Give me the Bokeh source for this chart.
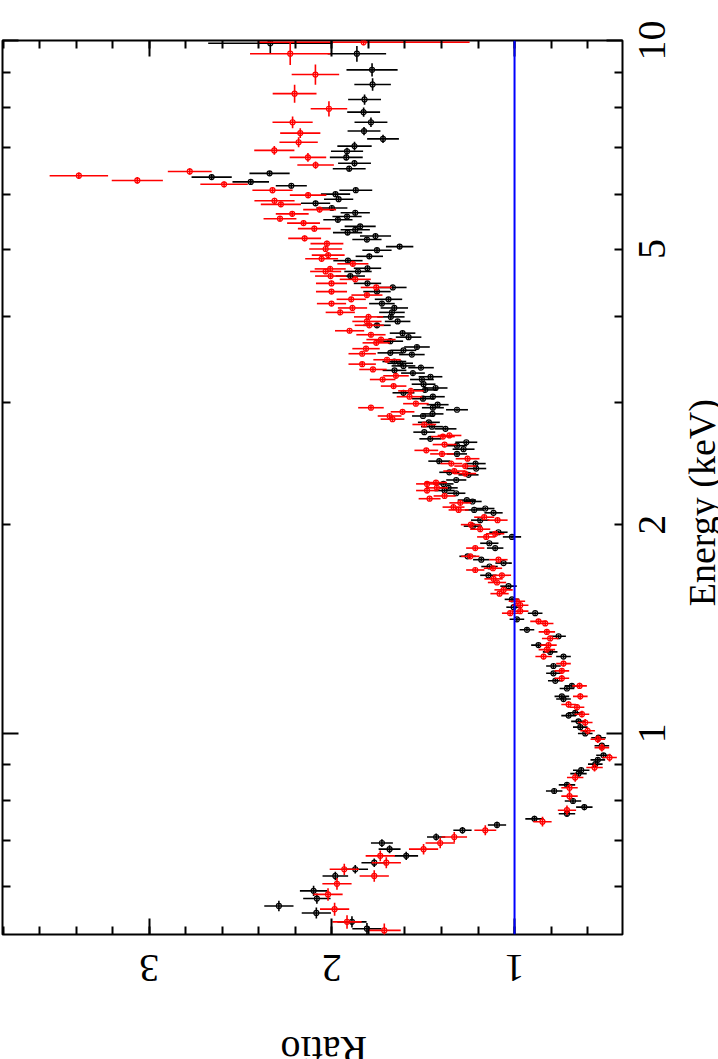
import math
from bokeh.plotting import figure
from bokeh.layouts import row, column
from bokeh.models import Range1d, LinearAxis, LogAxis, FixedTicker, Span, ColumnDataSource
from bokeh.core.properties import value
from bokeh.embed import file_html
from bokeh.resources import INLINE

# ---------------- data ----------------
black_energy = [
    9.91, 9.57, 9.07, 8.64, 8.22, 7.88, 7.62, 7.40, 7.21, 7.04,
    6.92, 6.78, 6.65, 6.53, 6.43, 6.35, 6.25, 6.17, 6.08, 6.00,
    5.90, 5.82, 5.73, 5.64, 5.57, 5.51, 5.39, 5.33, 5.28, 5.22,
    5.16, 5.04, 4.98, 4.88, 4.81, 4.69, 4.64, 4.57, 4.46, 4.40,
    4.34, 4.23, 4.17, 4.11, 4.05, 3.99, 3.93, 3.88, 3.78, 3.73,
    3.68, 3.61, 3.57, 3.54, 3.52, 3.44, 3.42, 3.39, 3.37, 3.34,
    3.31, 3.27, 3.24, 3.19, 3.15, 3.13, 3.10, 3.06, 3.04, 2.98,
    2.95, 2.93, 2.89, 2.87, 2.81, 2.77, 2.75, 2.72, 2.66, 2.63,
    2.60, 2.57, 2.53, 2.47, 2.45, 2.41, 2.38, 2.36, 2.32, 2.29,
    2.26, 2.24, 2.22, 2.17, 2.16, 2.10, 2.11, 2.08, 2.03, 1.99,
    1.95, 1.92, 1.88, 1.85, 1.80, 1.78, 1.76, 1.74, 1.69, 1.63,
    1.56, 1.52, 1.49, 1.46, 1.41, 1.38, 1.34, 1.31, 1.29, 1.25,
    1.22, 1.19, 1.17, 1.16, 1.13, 1.12, 1.07, 1.06, 1.04, 1.02,
    0.999, 0.985, 0.959, 0.929, 0.915, 0.902, 0.884, 0.874, 0.842, 0.825,
    0.798, 0.782, 0.765, 0.752, 0.737, 0.724, 0.708, 0.694, 0.680, 0.665,
    0.650, 0.636, 0.622, 0.592, 0.577, 0.563, 0.550, 0.534, 0.522,
]
black_ratio = [
    2.337, 1.863, 1.78, 1.777, 1.821, 1.826, 1.786, 1.824, 1.72, 1.876,
    1.917, 1.921, 1.876, 1.905, 2.341, 2.658, 2.444, 2.222, 1.869, 1.98,
    1.963, 2.089, 2.0, 1.872, 1.917, 1.967, 1.845, 1.872, 1.914, 1.761,
    1.808, 1.629, 1.753, 1.795, 1.912, 1.805, 1.857, 1.899, 1.805, 1.666,
    1.753, 1.69, 1.726, 1.658, 1.671, 1.677, 1.64, 1.753, 1.613, 1.58,
    1.68, 1.534, 1.608, 1.68, 1.562, 1.658, 1.626, 1.608, 1.512, 1.657,
    1.556, 1.46, 1.507, 1.498, 1.432, 1.489, 1.608, 1.447, 1.501, 1.421,
    1.447, 1.315, 1.449, 1.501, 1.469, 1.452, 1.378, 1.494, 1.461, 1.264,
    1.315, 1.279, 1.315, 1.412, 1.213, 1.21, 1.357, 1.252, 1.319, 1.389,
    1.361, 1.383, 1.319, 1.261, 1.23, 1.221, 1.16, 1.115, 1.188, 1.228,
    1.088, 1.014, 1.138, 1.106, 1.257, 1.182, 1.06, 1.137, 1.143, 1.033,
    1.014, 1.005, 0.887, 0.987, 0.932, 0.759, 0.869, 0.805, 0.732, 0.787,
    0.787, 0.777, 0.686, 0.713, 0.741, 0.732, 0.668, 0.704, 0.65, 0.64,
    0.613, 0.54, 0.522, 0.513, 0.544, 0.558, 0.635, 0.65, 0.713, 0.783,
    0.68, 0.618, 0.713, 0.891, 1.096, 1.285, 1.429, 1.726, 1.684, 1.593,
    1.768, 1.872, 1.981, 2.10, 2.082, 2.29, 2.085, 1.89, 1.808,
]
black_ratio_err = [
    0.34, 0.16, 0.14, 0.10, 0.09, 0.09, 0.09, 0.09, 0.087, 0.094,
    0.088, 0.09, 0.09, 0.09, 0.11, 0.11, 0.10, 0.085, 0.09, 0.08,
    0.08, 0.08, 0.085, 0.08, 0.08, 0.08, 0.085, 0.08, 0.08, 0.085,
    0.08, 0.075, 0.08, 0.075, 0.08, 0.075, 0.075, 0.08, 0.075, 0.075,
    0.075, 0.075, 0.07, 0.075, 0.07, 0.075, 0.07, 0.075, 0.07, 0.07,
    0.07, 0.07, 0.07, 0.07, 0.07, 0.065, 0.07, 0.065, 0.07, 0.065,
    0.065, 0.065, 0.065, 0.065, 0.065, 0.065, 0.06, 0.065, 0.06, 0.06,
    0.06, 0.06, 0.06, 0.06, 0.06, 0.06, 0.06, 0.06, 0.06, 0.06,
    0.055, 0.06, 0.055, 0.06, 0.055, 0.055, 0.055, 0.055, 0.055, 0.055,
    0.05, 0.055, 0.05, 0.05, 0.05, 0.05, 0.05, 0.05, 0.05, 0.05,
    0.05, 0.05, 0.05, 0.045, 0.045, 0.045, 0.045, 0.045, 0.045, 0.045,
    0.04, 0.04, 0.04, 0.04, 0.04, 0.04, 0.04, 0.04, 0.04, 0.04,
    0.04, 0.04, 0.04, 0.04, 0.04, 0.04, 0.04, 0.04, 0.04, 0.04,
    0.04, 0.04, 0.04, 0.04, 0.04, 0.04, 0.045, 0.045, 0.045, 0.045,
    0.045, 0.045, 0.045, 0.05, 0.05, 0.05, 0.05, 0.06, 0.06, 0.065,
    0.07, 0.07, 0.07, 0.075, 0.075, 0.08, 0.08, 0.08, 0.08,
]
black_energy_err = [
    0.35, 0.25, 0.2, 0.18, 0.14, 0.12, 0.12, 0.1, 0.1, 0.1,
    0.08, 0.07, 0.07, 0.06, 0.05, 0.05, 0.05, 0.05, 0.05, 0.05,
    0.05, 0.05, 0.05, 0.05, 0.04, 0.04, 0.04, 0.04, 0.04, 0.04,
    0.04, 0.04, 0.04, 0.04, 0.04, 0.04, 0.03, 0.03, 0.03, 0.03,
    0.03, 0.03, 0.03, 0.03, 0.03, 0.03, 0.03, 0.03, 0.03, 0.025,
    0.025, 0.025, 0.02, 0.02, 0.02, 0.02, 0.02, 0.02, 0.02, 0.02,
    0.02, 0.02, 0.02, 0.02, 0.02, 0.02, 0.02, 0.02, 0.02, 0.02,
    0.02, 0.015, 0.015, 0.015, 0.015, 0.015, 0.015, 0.015, 0.015, 0.015,
    0.015, 0.015, 0.015, 0.015, 0.015, 0.012, 0.012, 0.012, 0.012, 0.012,
    0.012, 0.012, 0.012, 0.012, 0.012, 0.012, 0.01, 0.01, 0.01, 0.01,
    0.01, 0.01, 0.01, 0.01, 0.01, 0.01, 0.008, 0.008, 0.008, 0.008,
    0.008, 0.008, 0.008, 0.008, 0.008, 0.008, 0.008, 0.008, 0.008, 0.008,
    0.007, 0.007, 0.007, 0.007, 0.007, 0.007, 0.007, 0.007, 0.007, 0.007,
    0.007, 0.007, 0.007, 0.007, 0.007, 0.007, 0.007, 0.007, 0.008, 0.008,
    0.008, 0.008, 0.008, 0.008, 0.008, 0.008, 0.008, 0.009, 0.009, 0.009,
    0.009, 0.009, 0.009, 0.01, 0.01, 0.01, 0.01, 0.01, 0.01,
]

red_energy = [
    9.94, 9.57, 8.93, 8.38, 7.97, 7.62, 7.35, 7.13, 6.94, 6.78,
    6.61, 6.47, 6.38, 6.28, 6.20, 6.08, 5.98, 5.87, 5.80, 5.70,
    5.62, 5.53, 5.45, 5.35, 5.18, 5.09, 5.00, 4.90, 4.84, 4.76,
    4.68, 4.64, 4.57, 4.52, 4.46, 4.40, 4.34, 4.29, 4.23, 4.17,
    4.11, 4.05, 3.99, 3.93, 3.88, 3.81, 3.76, 3.70, 3.66, 3.59,
    3.53, 3.46, 3.41, 3.35, 3.28, 3.24, 3.17, 3.12, 3.06, 2.99,
    2.95, 2.91, 2.87, 2.84, 2.79, 2.69, 2.68, 2.61, 2.56, 2.53,
    2.49, 2.45, 2.43, 2.37, 2.39, 2.30, 2.29, 2.26, 2.24, 2.20,
    2.18, 2.15, 2.12, 2.10, 2.05, 2.03, 2.00, 1.97, 1.94, 1.92,
    1.85, 1.80, 1.78, 1.73, 1.72, 1.69, 1.67, 1.65, 1.61, 1.59,
    1.55, 1.53, 1.50, 1.49, 1.45, 1.44, 1.40, 1.37, 1.34, 1.32,
    1.29, 1.26, 1.23, 1.20, 1.17, 1.13, 1.10, 1.09, 1.065, 1.036,
    1.008, 0.980, 0.953, 0.922, 0.892, 0.863, 0.834, 0.811, 0.774, 0.745,
    0.724, 0.708, 0.694, 0.680, 0.665, 0.650, 0.636, 0.622, 0.606, 0.585,
    0.557, 0.534, 0.519,
]
red_ratio = [
    1.826, 2.228, 2.09, 2.204, 2.016, 2.215, 2.173, 2.182, 2.315, 2.131,
    2.089, 2.778, 3.385, 3.065, 2.59, 2.325, 2.13, 2.314, 2.279, 2.067,
    2.217, 2.284, 2.155, 2.096, 2.149, 2.027, 2.034, 2.02, 2.056, 1.885,
    2.009, 2.034, 2.007, 1.872, 2.002, 1.757, 2.002, 1.808, 1.894, 2.002,
    1.887, 1.954, 1.799, 1.808, 1.795, 1.903, 1.786, 1.731, 1.757, 1.813,
    1.834, 1.698, 1.834, 1.775, 1.649, 1.722, 1.662, 1.567, 1.575, 1.54,
    1.786, 1.613, 1.684, 1.668, 1.494, 1.356, 1.392, 1.383, 1.483, 1.397,
    1.257, 1.346, 1.27, 1.27, 1.33, 1.43, 1.479, 1.425, 1.479, 1.383,
    1.465, 1.297, 1.334, 1.306, 1.166, 1.093, 1.239, 1.188, 1.106, 1.155,
    1.215, 1.242, 1.088, 1.118, 1.215, 1.069, 1.115, 1.096, 1.06, 1.082,
    0.987, 0.969, 0.969, 1.024, 0.869, 0.832, 0.823, 0.805, 0.814, 0.823,
    0.841, 0.732, 0.741, 0.741, 0.644, 0.64, 0.704, 0.658, 0.631, 0.613,
    0.60, 0.544, 0.522, 0.48, 0.562, 0.668, 0.699, 0.699, 0.713, 0.847,
    1.16, 1.33, 1.407, 1.498, 1.735, 1.702, 1.932, 1.768, 1.972, 2.021,
    1.985, 1.917, 1.713,
]
red_ratio_err = [
    0.58, 0.22, 0.13, 0.12, 0.10, 0.11, 0.11, 0.105, 0.11, 0.10,
    0.10, 0.12, 0.16, 0.14, 0.13, 0.11, 0.10, 0.11, 0.11, 0.09,
    0.09, 0.09, 0.09, 0.09, 0.09, 0.09, 0.09, 0.09, 0.09, 0.085,
    0.085, 0.085, 0.085, 0.085, 0.085, 0.085, 0.085, 0.085, 0.08, 0.08,
    0.08, 0.08, 0.08, 0.08, 0.08, 0.08, 0.08, 0.08, 0.075, 0.075,
    0.075, 0.075, 0.075, 0.075, 0.07, 0.07, 0.07, 0.07, 0.07, 0.07,
    0.07, 0.065, 0.065, 0.065, 0.065, 0.065, 0.065, 0.065, 0.065, 0.065,
    0.065, 0.06, 0.06, 0.06, 0.06, 0.06, 0.06, 0.06, 0.06, 0.06,
    0.06, 0.06, 0.06, 0.055, 0.055, 0.055, 0.055, 0.055, 0.05, 0.05,
    0.05, 0.05, 0.05, 0.05, 0.05, 0.05, 0.05, 0.05, 0.05, 0.05,
    0.045, 0.045, 0.045, 0.045, 0.045, 0.045, 0.045, 0.045, 0.045, 0.045,
    0.045, 0.04, 0.04, 0.04, 0.04, 0.04, 0.04, 0.04, 0.04, 0.04,
    0.04, 0.04, 0.04, 0.04, 0.045, 0.045, 0.045, 0.045, 0.05, 0.05,
    0.06, 0.07, 0.08, 0.08, 0.08, 0.08, 0.08, 0.08, 0.08, 0.08,
    0.08, 0.08, 0.09,
]
red_energy_err = [
    0.1, 0.35, 0.3, 0.25, 0.2, 0.15, 0.12, 0.12, 0.1, 0.1,
    0.08, 0.07, 0.07, 0.07, 0.06, 0.06, 0.06, 0.06, 0.05, 0.05,
    0.05, 0.05, 0.05, 0.05, 0.05, 0.05, 0.04, 0.04, 0.04, 0.04,
    0.04, 0.04, 0.04, 0.04, 0.04, 0.04, 0.035, 0.035, 0.035, 0.035,
    0.035, 0.035, 0.03, 0.03, 0.03, 0.03, 0.03, 0.03, 0.03, 0.03,
    0.025, 0.025, 0.025, 0.025, 0.025, 0.025, 0.025, 0.025, 0.02, 0.02,
    0.02, 0.02, 0.02, 0.02, 0.02, 0.02, 0.02, 0.02, 0.02, 0.02,
    0.02, 0.018, 0.018, 0.018, 0.018, 0.018, 0.018, 0.018, 0.018, 0.015,
    0.015, 0.015, 0.015, 0.015, 0.015, 0.015, 0.015, 0.015, 0.015, 0.015,
    0.012, 0.012, 0.012, 0.012, 0.012, 0.012, 0.012, 0.012, 0.012, 0.012,
    0.012, 0.012, 0.012, 0.012, 0.012, 0.012, 0.012, 0.012, 0.012, 0.012,
    0.012, 0.012, 0.012, 0.012, 0.012, 0.012, 0.012, 0.012, 0.012, 0.012,
    0.012, 0.012, 0.012, 0.012, 0.012, 0.012, 0.012, 0.012, 0.012, 0.012,
    0.012, 0.012, 0.012, 0.012, 0.012, 0.012, 0.012, 0.012, 0.012, 0.012,
    0.012, 0.012, 0.012,
]

# axis ticks and labels
ratio_major = [1, 2, 3]
ratio_minor = [0.4, 0.6, 0.8, 1.0, 1.2, 1.4, 1.6, 1.8, 2.0, 2.2, 2.4, 2.6,
               2.8, 3.0, 3.2, 3.4, 3.6, 3.8]
ratio_tick_labels = ["1", "2", "3"]
energy_major = [1, 10]
energy_minor = [0.6, 0.7, 0.8, 0.9, 2, 3, 4, 5, 6, 7, 8, 9]
energy_tick_values = [1, 2, 5, 10]
energy_tick_labels = ["1", "2", "5", "10"]
ratio_reference = 1.0
x_title = "Energy (keV)"
y_title = "Ratio"

FONT = "Liberation Serif"
LABEL_PX = 40

# ---------------- geometry ----------------
RATIO_LEFT, RATIO_RIGHT = 3.803, 0.409
E_LOW, E_HIGH = 0.512, 10.0
FRAME_TOP, FRAME_H, FRAME_W, FRAME_LEFT = 40, 894, 620, 2
MAIN_W, MAIN_H = 626, 1036
SIDE_W = 718 - MAIN_W
FOOT_H = 1059 - MAIN_H
PX_PER_RATIO = FRAME_W / (RATIO_LEFT - RATIO_RIGHT)


def make_source(energy, ratio, rerr, eerr):
    return ColumnDataSource(dict(
        energy=energy,
        ratio=ratio,
        r_lo=[r - e for r, e in zip(ratio, rerr)],
        r_hi=[r + e for r, e in zip(ratio, rerr)],
        e_lo=[x - d for x, d in zip(energy, eerr)],
        e_hi=[x + d for x, d in zip(energy, eerr)],
    ))


p = figure(width=MAIN_W, height=MAIN_H,
           x_range=Range1d(RATIO_LEFT, RATIO_RIGHT), y_range=Range1d(E_LOW, E_HIGH),
           y_axis_type="log", x_axis_location=None, y_axis_location=None,
           output_backend="svg", toolbar_location=None,
           min_border_left=FRAME_LEFT, min_border_right=MAIN_W - FRAME_LEFT - FRAME_W,
           min_border_top=FRAME_TOP, min_border_bottom=MAIN_H - FRAME_TOP - FRAME_H)
p.frame_align = False
p.grid.visible = False
p.outline_line_color = "black"
p.outline_line_width = 2
p.background_fill_color = "white"
p.border_fill_color = "white"


def tick_axis(cls, ticks, minor):
    ax = cls(ticker=FixedTicker(ticks=ticks, minor_ticks=minor))
    ax.major_tick_in = 16
    ax.major_tick_out = 0
    ax.minor_tick_in = 8
    ax.minor_tick_out = 0
    ax.major_tick_line_width = 2
    ax.minor_tick_line_width = 2
    ax.major_tick_line_color = "black"
    ax.minor_tick_line_color = "black"
    ax.axis_line_color = None
    ax.major_label_overrides = {t: "" for t in ticks}
    ax.major_label_standoff = 0
    ax.major_label_text_font_size = "1px"
    return ax


def label_axis(cls, positions, texts, orientation, standoff):
    ax = cls(ticker=FixedTicker(ticks=positions, minor_ticks=[]))
    ax.major_tick_in = 0
    ax.major_tick_out = 0
    ax.minor_tick_in = 0
    ax.minor_tick_out = 0
    ax.major_tick_line_color = None
    ax.minor_tick_line_color = None
    ax.axis_line_color = None
    ax.major_label_overrides = dict(zip(positions, texts))
    ax.major_label_orientation = orientation
    ax.major_label_standoff = standoff
    ax.major_label_text_font = FONT
    ax.major_label_text_font_size = f"{LABEL_PX}px"
    ax.major_label_text_color = "black"
    return ax


# upside-down labels are drawn starting at their anchor: shift each anchor by
# half the label's length so the text is centred on its tick
bottom_label_pos = [v + 0.25 * LABEL_PX * len(t) / PX_PER_RATIO
                    for v, t in zip(ratio_major, ratio_tick_labels)]

p.add_layout(tick_axis(LinearAxis, ratio_major, ratio_minor), "below")
p.add_layout(label_axis(LinearAxis, bottom_label_pos, ratio_tick_labels, math.pi, 33), "below")
p.add_layout(tick_axis(LogAxis, energy_major, energy_minor), "right")
p.add_layout(tick_axis(LinearAxis, ratio_major, ratio_minor), "above")
p.add_layout(tick_axis(LogAxis, energy_major, energy_minor), "left")

for energy, ratio, rerr, eerr, color in [
    (black_energy, black_ratio, black_ratio_err, black_energy_err, "#000000"),
    (red_energy, red_ratio, red_ratio_err, red_energy_err, "#ff0000"),
]:
    src = make_source(energy, ratio, rerr, eerr)
    p.segment(x0="r_lo", y0="energy", x1="r_hi", y1="energy", source=src,
              line_color=color, line_width=1.6)
    p.segment(x0="ratio", y0="e_lo", x1="ratio", y1="e_hi", source=src,
              line_color=color, line_width=1.6)
    p.scatter(x="ratio", y="energy", source=src, marker="circle", size=5,
              fill_alpha=0, line_color=color, line_width=1.2)

p.add_layout(Span(location=ratio_reference, dimension="height",
                  line_color="#0000ff", line_width=2))

# ---------------- right-hand strip: energy tick labels and axis title -------
log_hi, log_lo = math.log10(E_HIGH), math.log10(E_LOW)
dec_per_px = (log_hi - log_lo) / FRAME_H
side_top = 10 ** (log_hi + FRAME_TOP * dec_per_px)
side_bottom = 10 ** (log_hi - (MAIN_H - FRAME_TOP) * dec_per_px)

side = figure(width=SIDE_W, height=MAIN_H,
              x_range=Range1d(MAIN_W, MAIN_W + SIDE_W),
              y_range=Range1d(side_bottom, side_top), y_axis_type="log",
              x_axis_location=None, y_axis_location=None,
              output_backend="svg", toolbar_location=None,
              min_border_left=0, min_border_right=0,
              min_border_top=0, min_border_bottom=0)
side.frame_align = False
side.grid.visible = False
side.outline_line_color = None
side.text(x=[651.5] * len(energy_tick_values), y=energy_tick_values,
          text=energy_tick_labels, angle=math.pi / 2,
          text_align="center", text_baseline="middle",
          text_font=value(FONT), text_font_size=f"{LABEL_PX}px", text_color="black")
side.text(x=[701], y=[2.151], text=[x_title], angle=math.pi / 2,
          text_align="center", text_baseline="middle",
          text_font=value(FONT), text_font_size="38px", text_color="black")

# ---------------- bottom strip: y-axis title (upside down) -----------------
foot = figure(width=718, height=FOOT_H, x_range=p.x_range, y_range=Range1d(0, FOOT_H),
              x_axis_location=None, y_axis_location=None,
              output_backend="svg", toolbar_location=None,
              min_border_left=FRAME_LEFT, min_border_right=718 - FRAME_LEFT - FRAME_W,
              min_border_top=0, min_border_bottom=0)
foot.frame_align = False
foot.grid.visible = False
foot.outline_line_color = None
foot.text(x=[2.044], y=[FOOT_H - 14], text=[y_title], angle=math.pi,
          text_align="center", text_baseline="middle",
          text_font=value(FONT), text_font_size="40px", text_color="black")

layout = column(row(p, side), foot)
open("out.html", "w").write(file_html(layout, INLINE))
